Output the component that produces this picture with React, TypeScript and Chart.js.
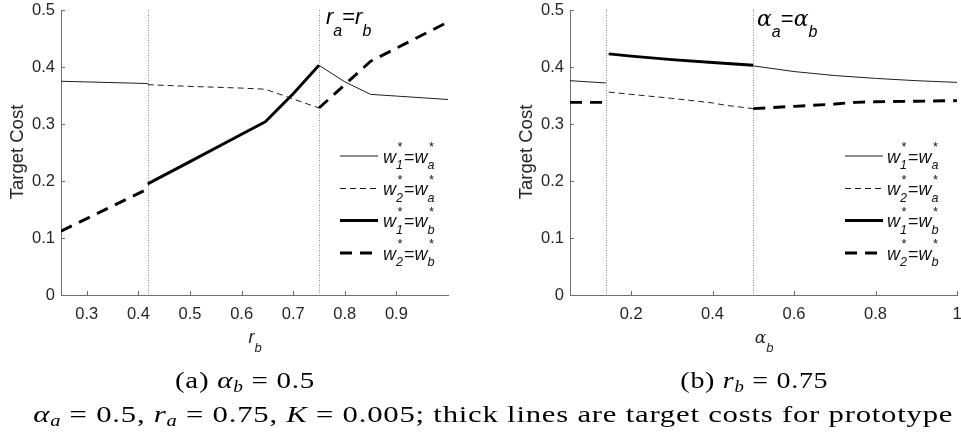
import React, { useEffect, useLayoutEffect, useRef } from 'react';
import { Chart, registerables } from 'chart.js';

Chart.register(...registerables);

// ---------------- data ----------------
const Y_TICKS = [0, 0.1, 0.2, 0.3, 0.4, 0.5];
const Y_TICK_LABELS = ['0', '0.1', '0.2', '0.3', '0.4', '0.5'];

// panel (a): x = r_b  (alpha_b = 0.5)
const A_X_MIN = 0.25;
const A_X_MAX = 1.0;
const A_X_TICKS = [0.3, 0.4, 0.5, 0.6, 0.7, 0.8, 0.9];
const A_X_TICK_LABELS = ['0.3', '0.4', '0.5', '0.6', '0.7', '0.8', '0.9'];
const A_MARKERS = [0.418, 0.75];

const A_W1_WA_X = [0.25, 0.418, 0.5, 0.75, 0.8, 0.85, 0.9, 0.95, 1.0];
const A_W1_WA_Y = [0.375, 0.371, null, 0.403, 0.374, 0.352, 0.349, 0.346, 0.343];
const A_W2_WA_X = [0.418, 0.5, 0.6, 0.646, 0.7, 0.75];
const A_W2_WA_Y = [0.369, 0.366, 0.363, 0.361, 0.344, 0.328];
const A_W1_WB_X = [0.418, 0.5, 0.6, 0.646, 0.7, 0.75];
const A_W1_WB_Y = [0.195, 0.234, 0.282, 0.304, 0.353, 0.403];
const A_W2_WB_X = [0.25, 0.418, 0.5, 0.75, 0.85, 1.0];
const A_W2_WB_Y = [0.112, 0.186, null, 0.328, 0.41, 0.479];

// panel (b): x = alpha_b  (r_b = 0.75)
const B_X_MIN = 0.05;
const B_X_MAX = 1.0;
const B_X_TICKS = [0.2, 0.4, 0.6, 0.8, 1.0];
const B_X_TICK_LABELS = ['0.2', '0.4', '0.6', '0.8', '1'];
const B_MARKERS = [0.138, 0.5];

const B_W1_WA_X = [0.05, 0.138, 0.3, 0.5, 0.6, 0.7, 0.8, 0.9, 1.0];
const B_W1_WA_Y = [0.376, 0.372, null, 0.402, 0.392, 0.385, 0.38, 0.376, 0.373];
const B_W2_WA_X = [0.145, 0.2, 0.3, 0.4, 0.43, 0.5];
const B_W2_WA_Y = [0.356, 0.352, 0.345, 0.337, 0.333, 0.327];
const B_W1_WB_X = [0.145, 0.2, 0.3, 0.4, 0.5];
const B_W1_WB_Y = [0.423, 0.419, 0.413, 0.408, 0.403];
const B_W2_WB_X = [0.05, 0.135, 0.3, 0.5, 0.6, 0.7, 0.75, 0.8, 0.9, 1.0];
const B_W2_WB_Y = [0.338, 0.338, null, 0.327, 0.331, 0.335, 0.338, 0.339, 0.34, 0.341];

const SERIES_NAMES = ['w1*=wa*', 'w2*=wa*', 'w1*=wb*', 'w2*=wb*'];
const SERIES_SUB_1 = ['1', '2', '1', '2'];
const SERIES_SUB_2 = ['a', 'a', 'b', 'b'];

// ---------------- styles ----------------
const AXIS = '#6e6e6e';
const TEXT = '#262626';
const SANS = '"Liberation Sans", Arial, sans-serif';
const SERIF = '"Liberation Serif", "Times New Roman", serif';
const STYLES = [
  { color: '#1e1e1e', width: 1, dash: [] as number[] },
  { color: '#1e1e1e', width: 1, dash: [6, 4] },
  { color: '#000000', width: 2.9, dash: [] as number[] },
  { color: '#000000', width: 2.9, dash: [12, 8] },
];
const LEGEND_Y = [156, 188.5, 220.5, 253];

const overlayPlugin = {
  id: 'overlay',
  beforeDatasetsDraw(chart: any, _args: any, opts: any) {
    const { ctx, chartArea, scales } = chart;
    ctx.save();
    ctx.strokeStyle = '#8a8a8a';
    ctx.lineWidth = 1;
    ctx.setLineDash([1, 1.5]);
    (opts.markers || []).forEach((v: number) => {
      const px = Math.round(scales.x.getPixelForValue(v)) + 0.5;
      ctx.beginPath();
      ctx.moveTo(px, chartArea.top);
      ctx.lineTo(px, chartArea.bottom);
      ctx.stroke();
    });
    ctx.restore();
  },
  afterDraw(chart: any, _args: any, opts: any) {
    const { ctx, chartArea, scales } = chart;
    ctx.save();
    ctx.strokeStyle = AXIS;
    ctx.lineWidth = 1;
    ctx.beginPath();
    scales.x.ticks.forEach((t: any) => {
      const px = Math.round(scales.x.getPixelForValue(t.value)) + 0.5;
      ctx.moveTo(px, chartArea.bottom);
      ctx.lineTo(px, chartArea.bottom - 4);
    });
    scales.y.ticks.forEach((t: any) => {
      const py = Math.round(scales.y.getPixelForValue(t.value)) + 0.5;
      ctx.moveTo(chartArea.left, py);
      ctx.lineTo(chartArea.left + 4, py);
    });
    ctx.stroke();
    // legend line samples
    chart.data.datasets.forEach((ds: any, i: number) => {
      const y = LEGEND_Y[i];
      const x0 = chartArea.right - opts.legendInset;
      ctx.beginPath();
      ctx.setLineDash(ds.borderDash || []);
      ctx.lineWidth = ds.borderWidth;
      ctx.strokeStyle = ds.borderColor;
      ctx.moveTo(x0, y);
      ctx.lineTo(x0 + 38, y);
      ctx.stroke();
    });
    ctx.restore();
  },
};

type PanelProps = {
  left: number;
  width: number;
  yAxisWidth: number;
  padRight: number;
  xMin: number;
  xMax: number;
  xTicks: number[];
  xLabels: string[];
  markers: number[];
  xs: number[][];
  ys: (number | null)[][];
  legendInset: number;
};

function Panel(p: PanelProps) {
  const ref = useRef<HTMLCanvasElement>(null);
  const height = 360;
  useEffect(() => {
    const chart = new Chart(ref.current as HTMLCanvasElement, {
      type: 'line',
      data: {
        datasets: p.xs.map((xs, i) => ({
          label: SERIES_NAMES[i],
          data: xs.map((x, j) => ({ x, y: p.ys[i][j] })),
          borderColor: STYLES[i].color,
          borderWidth: STYLES[i].width,
          borderDash: STYLES[i].dash,
          pointRadius: 0,
          tension: 0,
          spanGaps: false,
          fill: false,
          borderCapStyle: 'butt',
          borderJoinStyle: 'round',
        })),
      },
      options: {
        responsive: false,
        animation: false,
        events: [],
        layout: { padding: { left: 0, right: p.padRight, top: 10, bottom: 0 } },
        plugins: {
          legend: { display: false },
          tooltip: { enabled: false },
          overlay: { markers: p.markers, legendInset: p.legendInset },
        } as any,
        scales: {
          x: {
            type: 'linear',
            min: p.xMin,
            max: p.xMax,
            afterBuildTicks: (s: any) => {
              s.ticks = p.xTicks.map((v) => ({ value: v }));
            },
            afterFit: (s: any) => {
              s.height = 65;
              s.paddingLeft = 0;
              s.paddingRight = 0;
            },
            ticks: {
              autoSkip: false,
              maxRotation: 0,
              padding: 10,
              color: TEXT,
              font: { family: SANS, size: 16.5 },
              callback: (_v: any, i: number) => p.xLabels[i],
            },
            grid: { drawOnChartArea: false, drawTicks: false },
            border: { color: AXIS, width: 1 },
          },
          y: {
            type: 'linear',
            min: 0,
            max: 0.5,
            afterBuildTicks: (s: any) => {
              s.ticks = Y_TICKS.map((v) => ({ value: v }));
            },
            afterFit: (s: any) => {
              s.width = p.yAxisWidth;
              s.paddingTop = 0;
              s.paddingBottom = 0;
            },
            ticks: {
              autoSkip: false,
              padding: 6,
              color: TEXT,
              font: { family: SANS, size: 16.5 },
              callback: (_v: any, i: number) => Y_TICK_LABELS[i],
            },
            grid: { drawOnChartArea: false, drawTicks: false },
            border: { color: AXIS, width: 1 },
          },
        },
      } as any,
      plugins: [overlayPlugin],
    });
    return () => chart.destroy();
  }, []);
  return (
    <canvas
      ref={ref}
      width={p.width}
      height={height}
      style={{ position: 'absolute', left: p.left, top: 0, width: p.width, height }}
    />
  );
}

// ---------------- text helpers ----------------
const SubSup = ({ sub, sup }: { sub: string; sup: string }) => (
  <span style={{ position: 'relative', display: 'inline-block', width: 8, height: 0 }}>
    <span style={{ position: 'absolute', left: 1, top: -21.5, fontSize: 12.6, lineHeight: '12.6px' }}>{sup}</span>
    <span style={{ position: 'absolute', left: 0, top: -3.7, fontSize: 12.6, lineHeight: '12.6px' }}>{sub}</span>
  </span>
);

const LegendLabel = ({ left, baseline, i }: { left: number; baseline: number; i: number }) => (
  <div
    style={{
      position: 'absolute',
      left,
      top: baseline - 15.2,
      fontFamily: SANS,
      fontStyle: 'italic',
      fontSize: 18,
      lineHeight: '18px',
      whiteSpace: 'nowrap',
      color: '#111',
    }}
  >
    w<SubSup sub={SERIES_SUB_1[i]} sup="*" />
    <span style={{ fontStyle: 'normal' }}>=</span>w<SubSup sub={SERIES_SUB_2[i]} sup="*" />
  </div>
);

const Sub = ({ children, size, drop }: { children: any; size: number; drop: number }) => (
  <span style={{ fontSize: size, position: 'relative', top: drop }}>{children}</span>
);

const FitText = ({ cx, top, target, style, children }: any) => {
  const ref = useRef<HTMLSpanElement>(null);
  useLayoutEffect(() => {
    const el = ref.current;
    if (!el) return;
    el.style.transform = 'none';
    const w = el.getBoundingClientRect().width;
    if (w > 0) el.style.transform = `scaleX(${target / w})`;
  }, [target]);
  return (
    <div
      style={{
        position: 'absolute',
        left: cx - 600,
        width: 1200,
        top,
        textAlign: 'center',
        lineHeight: 1,
        whiteSpace: 'nowrap',
        ...style,
      }}
    >
      <span ref={ref} style={{ display: 'inline-block', transformOrigin: '50% 50%' }}>
        {children}
      </span>
    </div>
  );
};

const YTitle = ({ cx, cy }: { cx: number; cy: number }) => (
  <div
    style={{
      position: 'absolute',
      left: cx - 100,
      top: cy - 10,
      width: 200,
      height: 20,
      lineHeight: '20px',
      textAlign: 'center',
      transform: 'rotate(-90deg)',
      fontFamily: SANS,
      fontSize: 18.5,
      color: TEXT,
      whiteSpace: 'nowrap',
    }}
  >
    Target Cost
  </div>
);

export default function App() {
  const capStyle = { fontFamily: SERIF, fontSize: 24, letterSpacing: 0.6, color: '#000' };
  const mi = { fontStyle: 'italic' as const };
  return (
    <div
      style={{
        position: 'fixed',
        left: 0,
        top: 0,
        width: 961,
        height: 440,
        background: '#fff',
        overflow: 'hidden',
      }}
    >
      <Panel
        left={0}
        width={480}
        yAxisWidth={61}
        padRight={32}
        xMin={A_X_MIN}
        xMax={A_X_MAX}
        xTicks={A_X_TICKS}
        xLabels={A_X_TICK_LABELS}
        markers={A_MARKERS}
        xs={[A_W1_WA_X, A_W2_WA_X, A_W1_WB_X, A_W2_WB_X]}
        ys={[A_W1_WA_Y, A_W2_WA_Y, A_W1_WB_Y, A_W2_WB_Y]}
        legendInset={108}
      />
      <Panel
        left={480}
        width={481}
        yAxisWidth={90}
        padRight={4}
        xMin={B_X_MIN}
        xMax={B_X_MAX}
        xTicks={B_X_TICKS}
        xLabels={B_X_TICK_LABELS}
        markers={B_MARKERS}
        xs={[B_W1_WA_X, B_W2_WA_X, B_W1_WB_X, B_W2_WB_X]}
        ys={[B_W1_WA_Y, B_W2_WA_Y, B_W1_WB_Y, B_W2_WB_Y]}
        legendInset={112}
      />

      {/* y titles */}
      <YTitle cx={17} cy={152} />
      <YTitle cx={526} cy={152} />

      {/* x titles */}
      <div
        style={{
          position: 'absolute', left: 155, width: 200, top: 343 - 15.2, textAlign: 'center',
          fontFamily: SANS, fontStyle: 'italic', fontSize: 18, lineHeight: '18px', color: TEXT,
        }}
      >
        r<Sub size={13} drop={9}>b</Sub>
      </div>
      <div
        style={{
          position: 'absolute', left: 664, width: 200, top: 343 - 15.2, textAlign: 'center',
          fontFamily: SANS, fontSize: 18, lineHeight: '18px', color: TEXT,
        }}
      >
        <span style={{ fontFamily: '"DejaVu Serif", serif', fontStyle: 'italic', fontSize: 17 }}>α</span>
        <Sub size={13} drop={9}><i>b</i></Sub>
      </div>

      {/* annotations */}
      <div
        style={{
          position: 'absolute', left: 326, top: 25 - 18.6, fontFamily: SANS, fontStyle: 'italic',
          fontSize: 22, lineHeight: '22px', color: '#000', whiteSpace: 'nowrap',
        }}
      >
        r<Sub size={16} drop={12}>a</Sub>
        <span style={{ fontStyle: 'normal' }}>=</span>r<Sub size={16} drop={12}>b</Sub>
      </div>
      <div
        style={{
          position: 'absolute', left: 757, top: 27 - 18.6, fontFamily: SANS,
          fontSize: 22, lineHeight: '22px', color: '#000', whiteSpace: 'nowrap',
        }}
      >
        <span style={{ fontFamily: '"DejaVu Serif", serif', fontStyle: 'italic' }}>α</span>
        <Sub size={16} drop={11}><i>a</i></Sub>=
        <span style={{ fontFamily: '"DejaVu Serif", serif', fontStyle: 'italic' }}>α</span>
        <Sub size={16} drop={11}><i>b</i></Sub>
      </div>

      {/* legends */}
      {[163, 195.5, 227.5, 260].map((b, i) => (
        <LegendLabel key={'la' + i} left={383} baseline={b} i={i} />
      ))}
      {[163, 195.5, 227.5, 260].map((b, i) => (
        <LegendLabel key={'lb' + i} left={887} baseline={b} i={i} />
      ))}

      {/* captions */}
      <FitText cx={245} top={388 - 20} target={140} style={capStyle}>
        (a) <span style={mi}>α</span>
        <Sub size={16} drop={4}><span style={mi}>b</span></Sub> = 0.5
      </FitText>
      <FitText cx={754} top={388 - 20} target={148} style={capStyle}>
        (b) <span style={mi}>r</span>
        <Sub size={16} drop={4}><span style={mi}>b</span></Sub> = 0.75
      </FitText>
      <FitText cx={493} top={422 - 20} target={920} style={capStyle}>
        <span style={mi}>α</span>
        <Sub size={16} drop={4}><span style={mi}>a</span></Sub> = 0.5, <span style={mi}>r</span>
        <Sub size={16} drop={4}><span style={mi}>a</span></Sub> = 0.75, <span style={mi}>K</span> = 0.005;
        thick lines are target costs for prototype
      </FitText>
    </div>
  );
}
